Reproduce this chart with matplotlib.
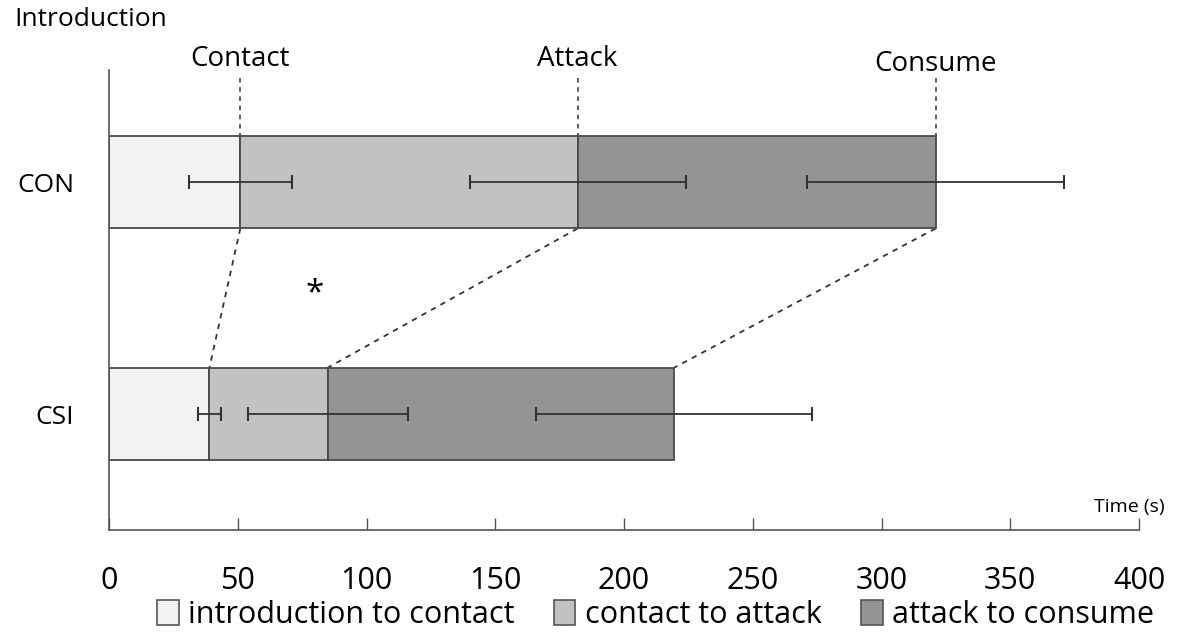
import matplotlib
matplotlib.use("Agg")
import matplotlib.pyplot as plt
import numpy as np
from matplotlib.patches import Patch

plt.rcParams['font.family'] = ['Open Sans', 'DejaVu Sans']

groups = ["CSI", "CON"]
stages = ["introduction to contact", "contact to attack", "attack to consume"]
milestones = ["Contact", "Attack", "Consume"]
# durations of each stage (s)
con_durations = [51, 131, 139]
csi_durations = [39, 46, 134.5]
# error (s) at each milestone
con_err = [20, 42, 50]
csi_err = [4.5, 31, 53.5]
xticks = [0, 50, 100, 150, 200, 250, 300, 350, 400]
colors = ["#f2f2f2", "#c2c2c2", "#949494"]

fig = plt.figure(figsize=(11.81, 6.40), dpi=100)
ax = fig.add_axes([109/1181, 1-530/640, 1030/1181, 460/640])

durations = {"CSI": csi_durations, "CON": con_durations}
errs = {"CSI": csi_err, "CON": con_err}
ypos = {"CSI": 0, "CON": 1}
bar_h = 0.40
ends = {}
for g in groups:
    d = np.array(durations[g], dtype=float)
    left = np.concatenate([[0], np.cumsum(d)[:-1]])
    ends[g] = np.cumsum(d)
    for i in range(3):
        ax.barh(ypos[g], d[i], left=left[i], height=bar_h, color=colors[i],
                edgecolor="#4a4a4a", linewidth=1.3, zorder=2)
for g in groups:
    ax.errorbar(ends[g], [ypos[g]]*3, xerr=errs[g], fmt="none", ecolor="#333333",
                elinewidth=1.3, capsize=5, capthick=1.5, zorder=3)

# dashed connectors
top_con = 1 + bar_h/2
bot_con = 1 - bar_h/2
top_csi = 0 + bar_h/2
label_y = [1.53, 1.53, 1.51]
for i, m in enumerate(milestones):
    x1 = ends["CON"][i]
    x2 = ends["CSI"][i]
    ax.plot([x1, x1], [1.45, top_con], ls=(0, (3, 3)), color="#333333", lw=1.1, zorder=1, clip_on=False)
    ax.plot([x1, x2], [bot_con, top_csi], ls=(0, (3, 3)), color="#333333", lw=1.3, zorder=1)
    ax.text(x1, label_y[i], m, ha="center", va="center", fontsize=20, clip_on=False)

ax.text(80, 0.52, "*", ha="center", va="center", fontsize=24)
ax.annotate("Time (s)", xy=(1.025, -0.40), xycoords=("axes fraction", "data"),
            fontsize=14, ha="right", va="center", annotation_clip=False)

fig.text(14/1181, 1-20/640, "Introduction", fontsize=19, ha="left", va="center")

ax.set_xlim(0, 400)
ax.set_ylim(-0.5, 1.483)
ax.set_xticks(xticks)
ax.set_xticklabels([str(t) for t in xticks], fontsize=22)
ax.set_yticks([ypos[g] for g in groups])
ax.set_yticklabels(groups, fontsize=19)
ax.tick_params(axis="x", direction="in", length=9, width=1, color="#555555", pad=26)
ax.tick_params(axis="y", length=0, pad=25)
for s in ["top", "right"]:
    ax.spines[s].set_visible(False)
for s in ["left", "bottom"]:
    ax.spines[s].set_color("#555555")
    ax.spines[s].set_linewidth(1.2)

handles = [Patch(facecolor=colors[i], edgecolor="#555555", linewidth=1.2, label=stages[i]) for i in range(3)]
fig.legend(handles=handles, loc="center", bbox_to_anchor=(0.555, 1-615/640), ncol=3, frameon=False,
           fontsize=22, handlelength=0.7, handleheight=0.9, handletextpad=0.3, columnspacing=1.3)

fig.savefig("out.png", dpi=100)
